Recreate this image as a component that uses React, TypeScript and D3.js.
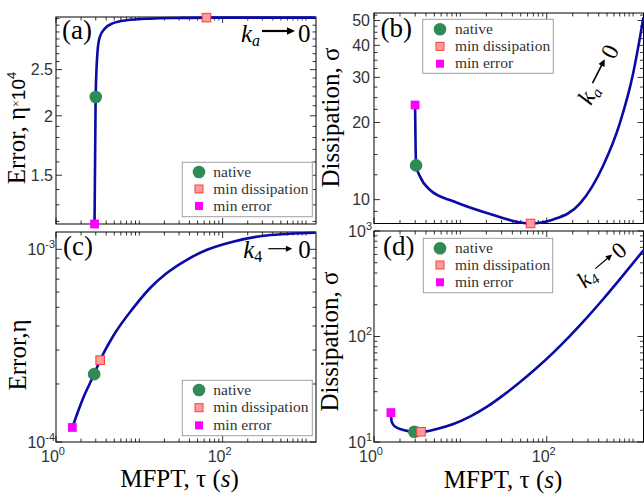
import React from "react";
import * as d3 from "d3";

// ---------------- data ----------------
const xDomain: [number, number] = [1, 1320];
const xMajorTicks = [1, 100];
const xMinorTicks = [2, 3, 4, 5, 6, 7, 8, 9, 10, 20, 30, 40, 50, 60, 70, 80, 90, 200, 300, 400, 500, 600, 700, 800, 900, 1000];
const xTickLabels = [
  { v: 1, base: "10", exp: "0" },
  { v: 100, base: "10", exp: "2" },
];

// panel (a): error (x1e4) vs MFPT, varying k_a
const tauA = [2.9, 2.99, 3.16, 3.36, 3.86, 4.86, 7.03, 13.4, 30, 63.8, 1300];
const etaA = [1.185, 2.19, 2.745, 2.93, 3.05, 3.13, 3.175, 3.2, 3.21, 3.215, 3.215];
const nativeA = [3.0, 2.19];
const minDissA = [64, 3.215];
const minErrA = [2.9, 1.185];
const yDomainA: [number, number] = [1.185, 3.225];
const yMajorA = [1.5, 2, 2.5];
const yLabelsA = ["1.5", "2", "2.5"];
const yMinorA = [1.2, 1.3, 1.4, 1.6, 1.7, 1.8, 1.9, 2.1, 2.2, 2.3, 2.4, 2.6, 2.7, 2.8, 2.9, 3.0, 3.1, 3.2];

// panel (b): dissipation vs MFPT, varying k_a
const tauB = [2.99, 3.07, 3.41, 4.46, 8.3, 20.2, 64.2, 119.6, 242, 447, 703, 995, 1254, 1316];
const sigB = [23.4, 13.6, 12.3, 10.9, 9.85, 8.87, 8.07, 8.37, 9.64, 13.5, 19.9, 30.8, 46.7, 51.4];
const nativeB = [3.07, 13.6];
const minDissB = [65, 8.07];
const minErrB = [2.99, 23.4];
const yDomainB: [number, number] = [8.07, 53.5];
const yMajorB = [10, 20, 30, 40, 50];
const yLabelsB = ["10", "20", "30", "40", "50"];
const yMinorB = [9, 12.5, 15, 17.5, 22.5, 25, 27.5, 32.5, 35, 37.5, 42.5, 45, 47.5, 52.5];

// panel (c): error vs MFPT, varying k_4
const tauC = [1.57, 2.12, 2.87, 3.39, 4.86, 8.43, 13.4, 21.2, 36.8, 63.8, 133, 334, 1300];
const etaC = [1.19e-4, 1.69e-4, 2.25e-4, 2.66e-4, 3.55e-4, 4.95e-4, 6.28e-4, 7.51e-4, 8.8e-4, 9.92e-4, 1.096e-3, 1.18e-3, 1.22e-3];
const nativeC = [2.87, 2.25e-4];
const minDissC = [3.39, 2.66e-4];
const minErrC = [1.57, 1.19e-4];
const yDomainC: [number, number] = [1e-4, 1.23e-3];
const yMajorC = [1e-4, 1e-3];
const yLabelsC = ["-4", "-3"];
const yMinorC = [2e-4, 3e-4, 4e-4, 5e-4, 6e-4, 7e-4, 8e-4, 9e-4];

// panel (d): dissipation vs MFPT, varying k_4
const tauD = [1.57, 1.6, 1.75, 2.19, 2.93, 3.5, 5.33, 8.3, 12.9, 20.2, 31.5, 49.2, 76.8, 120, 187, 292, 454, 708, 1344];
const sigD = [19.0, 15.6, 14.0, 13.0, 12.5, 12.5, 13.3, 14.8, 17.4, 21.5, 27.8, 37.0, 50.5, 70.8, 102, 151, 228, 352, 668];
const nativeD = [2.93, 12.5];
const minDissD = [3.5, 12.5];
const minErrD = [1.57, 19.0];
const yDomainD: [number, number] = [10, 1000];
const yMajorD = [10, 100, 1000];
const yLabelsD = ["1", "2", "3"];
const yMinorD = [20, 30, 40, 50, 60, 70, 80, 90, 200, 300, 400, 500, 600, 700, 800, 900];

const legendLabels = ["native", "min dissipation", "min error"];

// ---------------- styles ----------------
const SERIF = "Liberation Serif, Times New Roman, serif";
const SANS = "Liberation Sans, Arial, sans-serif";
const LINE = "#0a0aa6";
const GREEN = "#2f8a55";
const PINK = "#ff9d9d";
const PINK_STROKE = "#ff3c3c";
const MAGENTA = "#ff00ff";
const TICKCOL = "#333";

type PanelCfg = {
  x0: number; x1: number; y0: number; y1: number;
  tau: number[]; val: number[];
  yDomain: [number, number];
  yMajor: number[]; yMinor: number[];
  yLabels: string[]; yPow: boolean;
  yLabelX: number;
  native: number[]; minDiss: number[]; minErr: number[];
  showXLabels: boolean;
  legend: { x: number; y: number; w: number; h: number; mx: number; tx: number; rows: number[] };
};

const panels: PanelCfg[] = [
  {
    x0: 56, x1: 316, y0: 17, y1: 224, tau: tauA, val: etaA, yDomain: yDomainA,
    yMajor: yMajorA, yMinor: yMinorA, yLabels: yLabelsA, yPow: false, yLabelX: 53,
    native: nativeA, minDiss: minDissA, minErr: minErrA, showXLabels: false,
    legend: { x: 182.3, y: 162.3, w: 130, h: 54.4, mx: 199, tx: 213.3, rows: [172, 189, 206] },
  },
  {
    x0: 374, x1: 643.5, y0: 13, y1: 223.5, tau: tauB, val: sigB, yDomain: yDomainB,
    yMajor: yMajorB, yMinor: yMinorB, yLabels: yLabelsB, yPow: false, yLabelX: 370,
    native: nativeB, minDiss: minDissB, minErr: minErrB, showXLabels: false,
    legend: { x: 422.7, y: 19.3, w: 130.6, h: 54, mx: 440, tx: 455, rows: [29.3, 46.3, 63.7] },
  },
  {
    x0: 56, x1: 316, y0: 232, y1: 442, tau: tauC, val: etaC, yDomain: yDomainC,
    yMajor: yMajorC, yMinor: yMinorC, yLabels: yLabelsC, yPow: true, yLabelX: 55,
    native: nativeC, minDiss: minDissC, minErr: minErrC, showXLabels: true,
    legend: { x: 182.3, y: 380.3, w: 130, h: 55.4, mx: 199, tx: 213.3, rows: [390, 407.7, 425.3] },
  },
  {
    x0: 374, x1: 643.5, y0: 231, y1: 442, tau: tauD, val: sigD, yDomain: yDomainD,
    yMajor: yMajorD, yMinor: yMinorD, yLabels: yLabelsD, yPow: true, yLabelX: 372,
    native: nativeD, minDiss: minDissD, minErr: minErrD, showXLabels: true,
    legend: { x: 423.3, y: 238.3, w: 129.4, h: 54.4, mx: 440, tx: 455, rows: [248.3, 265, 282.3] },
  },
];

function Square({ cx, cy, s, fill, stroke }: { cx: number; cy: number; s: number; fill: string; stroke?: string }) {
  return (
    <rect x={cx - s / 2} y={cy - s / 2} width={s} height={s} fill={fill}
      stroke={stroke || "none"} strokeWidth={stroke ? 1 : 0} />
  );
}

function Panel({ p }: { p: PanelCfg }) {
  const x = d3.scaleLog().domain(xDomain).range([p.x0, p.x1]);
  const y = d3.scaleLog().domain(p.yDomain).range([p.y1, p.y0]);
  const pts = p.tau.map((t, i) => [t, p.val[i]] as [number, number]);
  const line = d3
    .line<[number, number]>()
    .x((d) => x(d[0]))
    .y((d) => y(d[1]))
    .curve(d3.curveMonotoneX);

  const ticks: JSX.Element[] = [];
  const addX = (v: number, len: number, k: string) => {
    const px = x(v);
    ticks.push(<line key={"xb" + k} x1={px} x2={px} y1={p.y1} y2={p.y1 - len} />);
    ticks.push(<line key={"xt" + k} x1={px} x2={px} y1={p.y0} y2={p.y0 + len} />);
  };
  const addY = (v: number, len: number, k: string) => {
    const py = y(v);
    ticks.push(<line key={"yl" + k} x1={p.x0} x2={p.x0 + len} y1={py} y2={py} />);
    ticks.push(<line key={"yr" + k} x1={p.x1} x2={p.x1 - len} y1={py} y2={py} />);
  };
  xMajorTicks.forEach((v, i) => addX(v, 6, "M" + i));
  xMinorTicks.forEach((v, i) => addX(v, 3.5, "m" + i));
  p.yMajor.forEach((v, i) => addY(v, 6, "M" + i));
  p.yMinor.forEach((v, i) => addY(v, 3.5, "m" + i));

  const L = p.legend;
  return (
    <g>
      <rect x={p.x0} y={p.y0} width={p.x1 - p.x0} height={p.y1 - p.y0} fill="#fff" stroke="#000" strokeWidth={1} />
      <g stroke="#000" strokeWidth={0.8}>{ticks}</g>
      {p.yMajor.map((v, i) => (
        <text key={"yl" + i} x={p.yLabelX} y={y(v)} dy="0.36em" textAnchor="end" fontFamily={SANS} fontSize={16} fill={TICKCOL}>
          {p.yPow ? (
            <>
              10<tspan dy={-7} fontSize={11}>{p.yLabels[i]}</tspan>
            </>
          ) : (
            p.yLabels[i]
          )}
        </text>
      ))}
      {p.showXLabels &&
        xTickLabels.map((t, i) => (
          <text key={"xl" + i} x={x(t.v) - 3} y={p.y1 + 20} textAnchor="middle" fontFamily={SANS} fontSize={16} fill={TICKCOL}>
            {t.base}
            <tspan dy={-7} fontSize={11}>{t.exp}</tspan>
          </text>
        ))}
      <path d={line(pts) || ""} fill="none" stroke={LINE} strokeWidth={2.6} strokeLinejoin="round" />
      <circle cx={x(p.native[0])} cy={y(p.native[1])} r={6.3} fill={GREEN} />
      <Square cx={x(p.minDiss[0])} cy={y(p.minDiss[1])} s={8.6} fill={PINK} stroke={PINK_STROKE} />
      <Square cx={x(p.minErr[0])} cy={y(p.minErr[1])} s={8.8} fill={MAGENTA} />
      <rect x={L.x} y={L.y} width={L.w} height={L.h} fill="#fff" stroke="#a0a0a0" strokeWidth={1} />
      <circle cx={L.mx} cy={L.rows[0]} r={6.3} fill={GREEN} />
      <Square cx={L.mx} cy={L.rows[1]} s={8} fill={PINK} stroke={PINK_STROKE} />
      <Square cx={L.mx} cy={L.rows[2]} s={8} fill={MAGENTA} />
      {legendLabels.map((s, i) => (
        <text key={s} x={L.tx} y={L.rows[i]} dy="0.3em" fontFamily={SERIF} fontSize={15.5} fill="#333">
          {s}
        </text>
      ))}
    </g>
  );
}

function KArrow({ x, y, angle, sub, subItalic, a0, a1, ay, zx, fs, thick, head }: any) {
  return (
    <g transform={`translate(${x},${y}) rotate(${angle})`} fontFamily={SERIF} fill="#000">
      <text x={0} y={0} fontSize={fs} fontStyle="italic">k</text>
      <text x={fs * 0.44} y={fs * 0.17} fontSize={fs * 0.64} fontStyle={subItalic ? "italic" : "normal"}>{sub}</text>
      <line x1={a0} x2={a1 - head * 1.2} y1={ay} y2={ay} stroke="#000" strokeWidth={thick} />
      <path d={`M${a1},${ay} L${a1 - head * 1.6},${ay - head * 0.75} L${a1 - head * 1.6},${ay + head * 0.75} Z`} fill="#000" />
      <text x={zx} y={0} fontSize={fs}>0</text>
    </g>
  );
}

export default function App() {
  return (
    <div style={{ position: "absolute", left: 0, top: 0 }}>
      <svg width={644} height={497} viewBox="0 0 644 497" style={{ display: "block", background: "#fff" }}>
        <rect x={0} y={0} width={644} height={497} fill="#fff" />
        {panels.map((p, i) => (
          <Panel key={i} p={p} />
        ))}
        <g fontFamily={SERIF} fontSize={27} fill="#000">
          <text x={62} y={38.5}>(a)</text>
          <text x={380.5} y={36.7}>(b)</text>
          <text x={63} y={255}>(c)</text>
          <text x={383} y={255}>(d)</text>
        </g>
        <KArrow x={241} y={41.5} angle={0} sub="a" subItalic a0={21} a1={54} ay={-10.5} zx={57} fs={25} thick={2.2} head={5} />
        <KArrow x={243.3} y={258} angle={0} sub="4" subItalic={false} a0={25} a1={49} ay={-9.3} zx={55} fs={25} thick={1.2} head={4} />
        <KArrow x={591} y={106} angle={-63} sub="a" subItalic a0={21} a1={48} ay={-9} zx={51} fs={24} thick={1.6} head={4.5} />
        <KArrow x={585} y={289} angle={-40} sub="4" subItalic a0={21} a1={43} ay={-9} zx={45} fs={23} thick={1.2} head={4} />
        <g fontFamily={SERIF} fill="#000">
          <text transform="translate(25,128) rotate(-90)" textAnchor="middle" fontSize={25}>
            Error, η<tspan fontSize={12} dy={-5}>×</tspan>
            <tspan fontFamily={SANS} fontSize={19} dy={5}>10</tspan>
            <tspan fontFamily={SANS} fontSize={13} dy={-9}>4</tspan>
          </text>
          <text transform="translate(339,117.5) rotate(-90)" textAnchor="middle" fontSize={25}>
            Dissipation, σ
          </text>
          <text transform="translate(26,355) rotate(-90)" textAnchor="middle" fontSize={25}>
            Error,η
          </text>
          <text transform="translate(338,341.5) rotate(-90)" textAnchor="middle" fontSize={25}>
            Dissipation, σ
          </text>
          <text x={179.5} y={486.7} textAnchor="middle" fontSize={25}>
            MFPT, τ (<tspan fontStyle="italic">s</tspan>)
          </text>
          <text x={503} y={488} textAnchor="middle" fontSize={25}>
            MFPT, τ (<tspan fontStyle="italic">s</tspan>)
          </text>
        </g>
      </svg>
    </div>
  );
}
